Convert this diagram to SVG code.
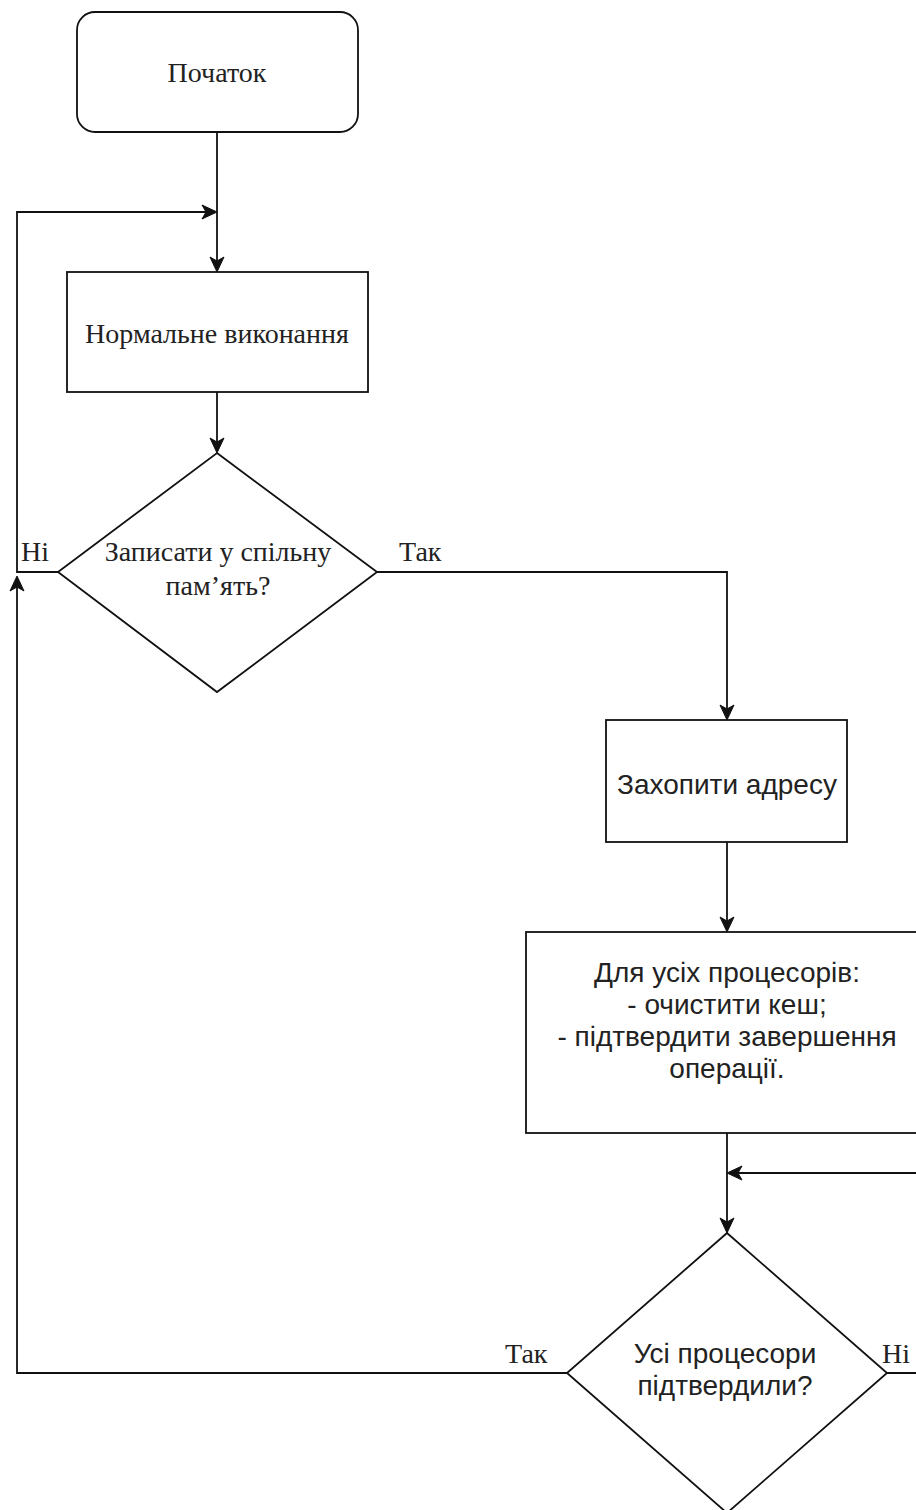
<svg xmlns="http://www.w3.org/2000/svg" width="916" height="1510" viewBox="0 0 916 1510">
  <style>
    .shape { fill: #ffffff; stroke: #111111; stroke-width: 1.8; }
    .edge { fill: none; stroke: #111111; stroke-width: 1.8; }
    .head { fill: #111111; stroke: #111111; stroke-width: 1; stroke-linejoin: miter; }
    .serif { font-family: "Liberation Serif", "Times New Roman", serif; font-size: 28px; fill: #222222; }
    .sans { font-family: "Liberation Sans", Arial, sans-serif; font-size: 28px; fill: #222222; }
    .mid { text-anchor: middle; }
  </style>
  <defs>
    <!-- classic arrowhead, tip at the origin, pointing along +x -->
    <path id="ah" d="M0,0 L-15,-7 L-11,0 L-15,7 Z"/>
  </defs>
  <rect width="916" height="1510" fill="#ffffff"/>

  <!-- connectors -->
  <g id="connectors">
    <path class="edge" d="M217,132 V266"/>
    <path class="edge" d="M217,392 V447"/>
    <path class="edge" d="M377,572 H727 V714"/>
    <path class="edge" d="M727,842 V926"/>
    <path class="edge" d="M727,1133 V1227"/>
    <path class="edge" d="M887,1373 H940 V1173 H733"/>
    <path class="edge" d="M567,1373 H17 V582"/>
    <path class="edge" d="M58,572 H17 V212 H211"/>
    <use href="#ah" class="head" transform="translate(217,272) rotate(90)"/>
    <use href="#ah" class="head" transform="translate(217,453) rotate(90)"/>
    <use href="#ah" class="head" transform="translate(727,720) rotate(90)"/>
    <use href="#ah" class="head" transform="translate(727,932) rotate(90)"/>
    <use href="#ah" class="head" transform="translate(727,1233) rotate(90)"/>
    <use href="#ah" class="head" transform="translate(727,1173) rotate(180)"/>
    <use href="#ah" class="head" transform="translate(17,576) rotate(-90)"/>
    <use href="#ah" class="head" transform="translate(217,212)"/>
    <text class="serif" x="21" y="561">Ні</text>
    <text class="serif" x="399" y="561">Так</text>
    <text class="serif" x="505" y="1363">Так</text>
    <text class="serif" x="882" y="1363">Ні</text>
  </g>

  <!-- start -->
  <g id="start">
    <rect class="shape" x="77" y="12" width="281" height="120" rx="18" ry="18"/>
    <text class="serif mid" x="217" y="82">Початок</text>
  </g>

  <!-- normal execution -->
  <g id="normal">
    <rect class="shape" x="67" y="272" width="301" height="120"/>
    <text class="serif mid" x="217" y="343">Нормальне виконання</text>
  </g>

  <!-- decision: write to shared memory -->
  <g id="write-shared">
    <polygon class="shape" points="217,453 377,572 217,692 58,572"/>
    <text class="serif mid" x="218" y="561">Записати у спільну</text>
    <text class="serif mid" x="218" y="595">пам’ять?</text>
  </g>

  <!-- capture address -->
  <g id="capture">
    <rect class="shape" x="606" y="720" width="241" height="122"/>
    <text class="sans mid" x="727" y="794">Захопити адресу</text>
  </g>

  <!-- all processors -->
  <g id="all-cpus">
    <rect class="shape" x="526" y="932" width="402" height="201"/>
    <text class="sans mid" x="727" y="982">Для усіх процесорів:</text>
    <text class="sans mid" x="727" y="1014">- очистити кеш;</text>
    <text class="sans mid" x="727" y="1046">- підтвердити завершення</text>
    <text class="sans mid" x="727" y="1078">операції.</text>
  </g>

  <!-- decision: all confirmed -->
  <g id="all-confirmed">
    <polygon class="shape" points="727,1233 887,1373 727,1513 567,1373"/>
    <text class="sans mid" x="725" y="1363">Усі процесори</text>
    <text class="sans mid" x="725" y="1395">підтвердили?</text>
  </g>
</svg>
